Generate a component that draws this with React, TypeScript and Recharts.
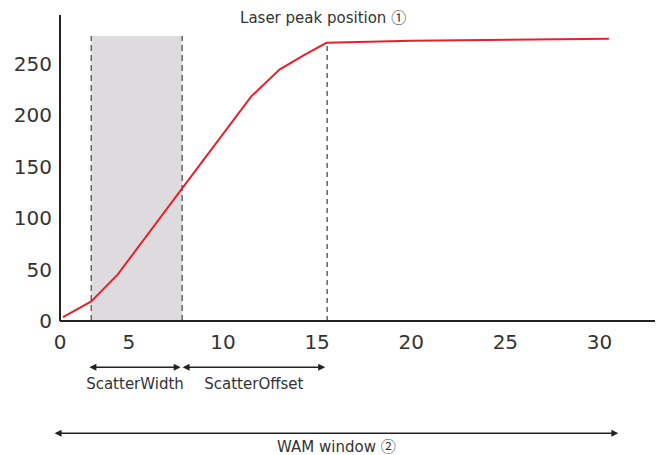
import React from "react";
import {
  ComposedChart,
  Line,
  XAxis,
  YAxis,
  ReferenceArea,
  ReferenceLine,
} from "recharts";

// axis
const axisOrigin = 1.34; // position of the "0" label on the drawn axis
const xTicks = [0, 5, 10, 15, 20, 25, 30];
const yTicks = [0, 50, 100, 150, 200, 250];

// curve
const curveX = [1.5, 3.0, 4.4, 7.8, 11.5, 13.0, 14.3, 15.5, 20, 30.5];
const curveY = [3.7, 19, 45, 128, 218, 244, 258, 270, 272, 274];

// window markers
const scatterStart = 3.0;
const scatterEnd = 7.83;
const scatterTop = 276.7;
const peakX = 15.53;
const peakY = 270;
const wamStart = 1.05;
const wamEnd = 31.0;

const data = curveX.map((x, i) => ({ x, y: curveY[i] }));

const textColor = "#333";
const font = "DejaVu Sans, sans-serif";
const circleFont = "Noto Sans CJK JP, sans-serif";

const Arrow = (props: any) => {
  const { x1, y1, x2, y2, text, mark, textDy } = props;
  const h = 7;
  const w = 3.5;
  return (
    <g>
      <line x1={x1 + 2} y1={y1} x2={x2 - 2} y2={y2} stroke="#222" strokeWidth={1.5} />
      <polygon points={`${x1},${y1} ${x1 + h},${y1 - w} ${x1 + h},${y1 + w}`} fill="#222" />
      <polygon points={`${x2},${y2} ${x2 - h},${y2 - w} ${x2 - h},${y2 + w}`} fill="#222" />
      <text
        x={(x1 + x2) / 2}
        y={y1 + textDy}
        textAnchor="middle"
        fontSize={15}
        fontFamily={font}
        fill={textColor}
      >
        {text}
        {mark && <tspan fontFamily={circleFont}>{mark}</tspan>}
      </text>
    </g>
  );
};

const PeakLine = (props: any) => {
  const { x1, y1, x2, y2 } = props;
  return (
    <g>
      <line x1={x1} y1={y1} x2={x2} y2={y2} stroke="#111" strokeWidth={1} strokeDasharray="5 4" />
      <text x={x1 - 4} y={23} textAnchor="middle" fontSize={15} fontFamily={font} fill={textColor}>
        Laser peak position <tspan fontFamily={circleFont}>①</tspan>
      </text>
    </g>
  );
};

export default function App() {
  return (
    <div style={{ position: "absolute", left: 0, top: 0 }}>
      <ComposedChart
        width={656}
        height={455}
        data={data}
        margin={{ top: 15, right: 1, left: 0, bottom: 104 }}
      >
        <XAxis
          dataKey="x"
          type="number"
          domain={[axisOrigin, 32.95]}
          ticks={xTicks.map((t) => (t === 0 ? axisOrigin : t))}
          tickFormatter={(v: number) => (v === axisOrigin ? "0" : String(v))}
          allowDataOverflow
          height={30}
          tickLine={false}
          tickMargin={8}
          axisLine={{ stroke: "#222", strokeWidth: 2 }}
          tick={{ fill: textColor, fontSize: 20, fontFamily: font }}
        />
        <YAxis
          type="number"
          domain={[0, 297]}
          ticks={yTicks}
          allowDataOverflow
          width={60}
          tickLine={false}
          axisLine={{ stroke: "#222", strokeWidth: 2 }}
          tick={{ fill: textColor, fontSize: 20, fontFamily: font }}
        />
        <ReferenceArea
          x1={scatterStart}
          x2={scatterEnd}
          y1={0}
          y2={scatterTop}
          fill="#dddbdd"
          fillOpacity={1}
          stroke="none"
        />
        <ReferenceLine
          segment={[{ x: scatterStart, y: 0 }, { x: scatterStart, y: scatterTop }]}
          stroke="#666"
          strokeWidth={1.5}
          strokeDasharray="6 4"
        />
        <ReferenceLine
          segment={[{ x: scatterEnd, y: 0 }, { x: scatterEnd, y: scatterTop }]}
          stroke="#666"
          strokeWidth={1.5}
          strokeDasharray="6 4"
        />
        <ReferenceLine
          segment={[{ x: peakX, y: 0 }, { x: peakX, y: peakY }]}
          ifOverflow="visible"
          shape={(p: any) => <PeakLine {...p} />}
        />
        <Line
          dataKey="y"
          type="linear"
          stroke="#e8202a"
          strokeWidth={2}
          dot={false}
          isAnimationActive={false}
        />
        <ReferenceLine
          segment={[{ x: scatterStart - 0.1, y: -45 }, { x: scatterEnd - 0.08, y: -45 }]}
          ifOverflow="visible"
          shape={(p: any) => <Arrow {...p} text="ScatterWidth" textDy={22} />}
        />
        <ReferenceLine
          segment={[{ x: scatterEnd + 0.02, y: -45 }, { x: peakX - 0.1, y: -45 }]}
          ifOverflow="visible"
          shape={(p: any) => <Arrow {...p} text="ScatterOffset" textDy={22} />}
        />
        <ReferenceLine
          segment={[{ x: wamStart, y: -109 }, { x: wamEnd, y: -109 }]}
          ifOverflow="visible"
          shape={(p: any) => <Arrow {...p} text="WAM window " mark="②" textDy={19} />}
        />
      </ComposedChart>
    </div>
  );
}
